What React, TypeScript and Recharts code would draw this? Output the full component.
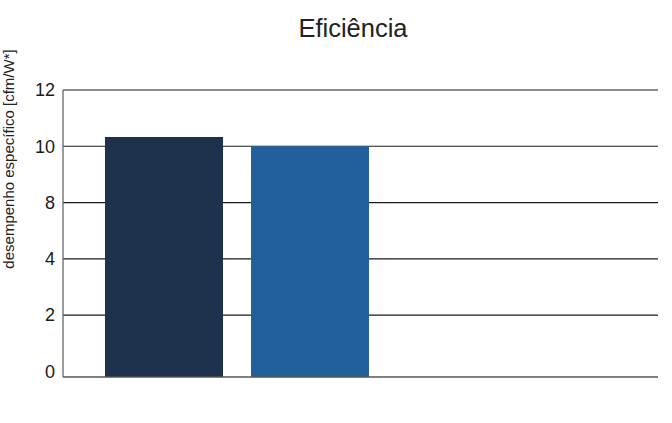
import { BarChart, Bar, XAxis, YAxis, CartesianGrid, Cell } from "recharts"

// categories (no visible x labels in the original)
const categories = ["A", "B"]
// specific performance, read in the units of the printed tick labels
const efficiency = [10.33, 10.0]
// tick labels as printed, spaced evenly on the axis
const tickLabels = ["0", "2", "4", "8", "10", "12"]
const barColors = ["#1e324e", "#21609b"]

const FONT = "'Liberation Sans', Arial, sans-serif"
const Y_FLOOR = -0.1

// map a value in label units to its position among the evenly spaced ticks
function toAxis(v: number): number {
  const nums = tickLabels.map(Number)
  for (let i = 0; i < nums.length - 1; i++) {
    if (v <= nums[i + 1]) return i + (v - nums[i]) / (nums[i + 1] - nums[i])
  }
  return nums.length - 1
}

const data = categories.map((name, i) => ({ name, value: efficiency[i] }))
const tickIdx = tickLabels.map((_, i) => i)

export default function App() {
  return (
    <div style={{ position: "fixed", left: 0, top: 0, width: 672, height: 423, background: "#fff" }}>
      <BarChart
        width={672}
        height={423}
        data={data}
        margin={{ top: 90, right: 14, bottom: 45, left: 0 }}
      >
        <CartesianGrid
          vertical={false}
          horizontalValues={tickIdx.slice(1)}
          stroke="#1a1a1a"
          strokeWidth={1.2}
        />
        <XAxis
          dataKey="name"
          tick={false}
          tickLine={false}
          height={1}
          axisLine={{ stroke: "#555", strokeWidth: 1.3 }}
          padding={{ left: 28, right: 275 }}
        />
        <YAxis
          type="number"
          domain={[Y_FLOOR, tickLabels.length - 1]}
          ticks={tickIdx}
          tickFormatter={(i: number) => tickLabels[i]}
          width={63}
          tickLine={false}
          axisLine={{ stroke: "#666", strokeWidth: 1.3 }}
          tickMargin={2}
          tick={{ fontSize: 18, fill: "#1a1a1a", fontFamily: FONT }}
          allowDataOverflow
        />
        <Bar
          dataKey={(d: { value: number }) => [Y_FLOOR, toAxis(d.value)]}
          barSize={118}
          isAnimationActive={false}
        >
          {data.map((d, i) => (
            <Cell key={d.name} fill={barColors[i]} />
          ))}
        </Bar>
      </BarChart>
      <svg
        width={672}
        height={423}
        style={{ position: "absolute", left: 0, top: 0, pointerEvents: "none" }}
      >
        <text x={353} y={37} textAnchor="middle" fontSize={25.5} fill="#222" fontFamily={FONT}>
          Eficiência
        </text>
        <text
          transform="translate(14,159) rotate(-90)"
          textAnchor="middle"
          fontSize={15}
          fill="#222"
          fontFamily={FONT}
        >
          desempenho específico [cfm/W*]
        </text>
      </svg>
    </div>
  )
}
